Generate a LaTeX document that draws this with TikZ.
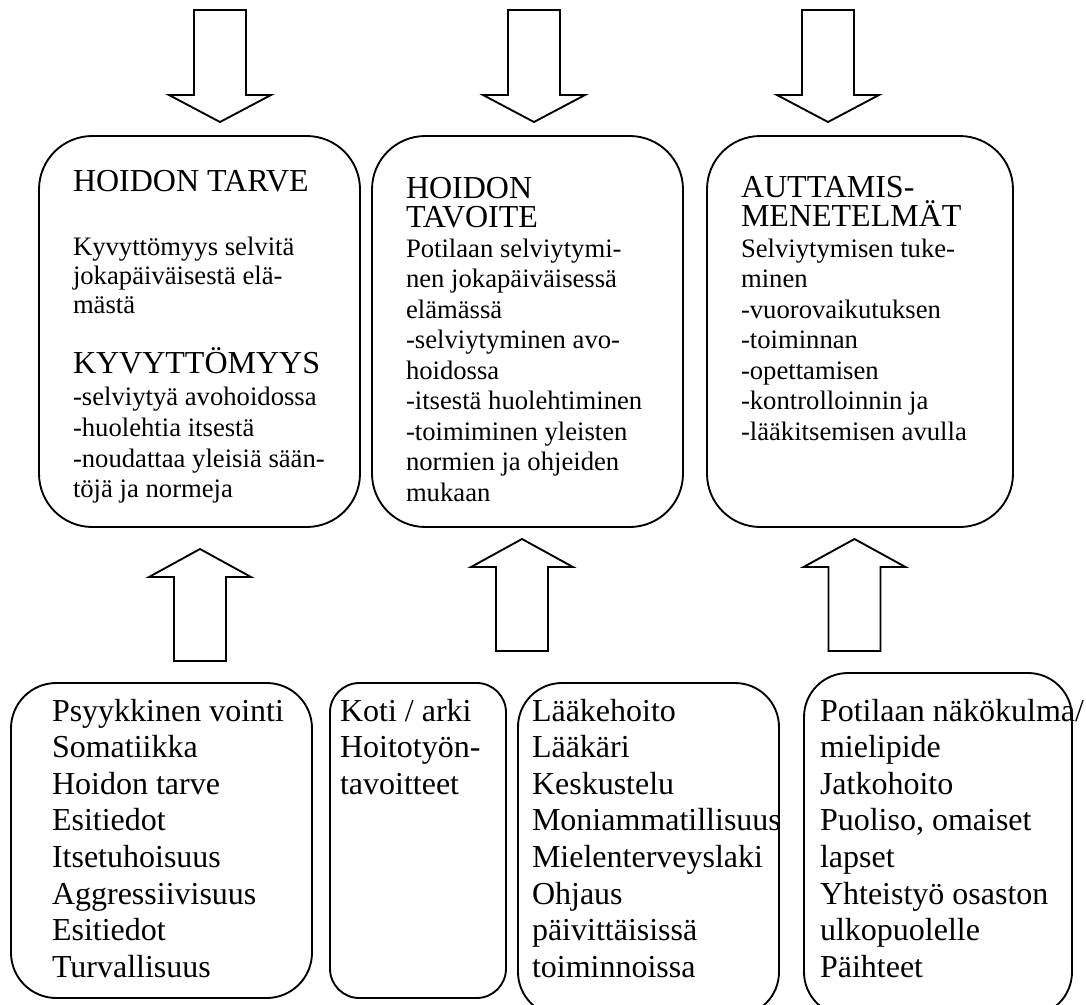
\documentclass[tikz,border=0pt]{standalone}
\usepackage{fontspec}
\setmainfont{Liberation Serif}
\usetikzlibrary{fit}
\newcommand\fhead{\fontsize{24}{28}\selectfont}
\newcommand\fbody{\fontsize{20}{23}\selectfont}
\tikzset{
  box/.style={draw, line width=1.4pt, rounded corners=#1, inner sep=0pt},
  txt/.style={anchor=base west, inner sep=0pt, outer sep=0pt},
  blockdown/.pic={\draw[line width=1.4pt, line join=miter]
     (-26,0) -- (26,0) -- (26,85) -- (51,85) -- (0,112) -- (-51,85) -- (-26,85) -- cycle;},
  blockup/.pic={\draw[line width=1.4pt, line join=miter]
     (-26,0) -- (26,0) -- (26,-84) -- (51,-84) -- (0,-112) -- (-51,-84) -- (-26,-84) -- cycle;}
}
\begin{document}
\begin{tikzpicture}[x=0.75pt, y=-0.75pt]
\useasboundingbox (0,0) rectangle (1086,1004);
\clip (0,0) rectangle (1086,1004);

% top arrows
\pic (da1) at (220,10) {blockdown};
\pic (da2) at (534,10) {blockdown};
\pic (da3) at (828,10) {blockdown};

% top boxes
\node[box=40pt, fit={(39,136) (360,527)}] (t1) {};
\node[box=40pt, fit={(372,136) (683,527)}] (t2) {};
\node[box=40pt, fit={(707,136) (1013,527)}] (t3) {};

% up arrows
\pic (ua1) at (200,661) {blockup};
\pic (ua2) at (522,651) {blockup};
\pic (ua3) at (854.5,651) {blockup};

% bottom boxes
\node[box=34pt, fit={(11,683) (312,998)}] (b1) {};
\node[box=22pt, fit={(330,683) (506,998)}] (b2) {};
\node[box=33pt, fit={(518,683) (779,1016)}] (b3) {};
\node[box=33pt, fit={(804,673) (1072,1016)}] (b4) {};

% texts of top box 1
\foreach \y/\t [count=\i] in {
  191/{\fhead HOIDON TARVE},
  255/{\fbody Kyvyttömyys selvitä},
  284/{\fbody jokapäiväisestä elä-},
  313/{\fbody mästä},
  373/{\fhead KYVYTTÖMYYS},
  405/{\fbody -selviytyä avohoidossa},
  436/{\fbody -huolehtia itsestä},
  467/{\fbody -noudattaa yleisiä sään-},
  497/{\fbody töjä ja normeja}}
  \node[txt] (t1-\i) at (73,\y) {\t};

% texts of top box 2
\foreach \y/\t [count=\i] in {
  198/{\fhead HOIDON},
  227/{\fhead TAVOITE},
  257/{\fbody Potilaan selviytymi-},
  287.5/{\fbody nen jokapäiväisessä},
  318/{\fbody elämässä},
  348.5/{\fbody -selviytyminen avo-},
  379/{\fbody hoidossa},
  409.5/{\fbody -itsestä huolehtiminen},
  440/{\fbody -toimiminen yleisten},
  470.5/{\fbody normien ja ohjeiden},
  501/{\fbody mukaan}}
  \node[txt] (t2-\i) at (406,\y) {\t};

% texts of top box 3
\foreach \y/\t [count=\i] in {
  197/{\fhead AUTTAMIS-},
  226/{\fhead MENETELMÄT},
  257/{\fbody Selviytymisen tuke-},
  287.5/{\fbody minen},
  318/{\fbody -vuorovaikutuksen},
  348.5/{\fbody -toiminnan},
  379/{\fbody -opettamisen},
  409.5/{\fbody -kontrolloinnin ja},
  440/{\fbody -lääkitsemisen avulla}}
  \node[txt] (t3-\i) at (741,\y) {\t};

% bottom boxes texts
\foreach \t [count=\i] in {Psyykkinen vointi, Somatiikka, Hoidon tarve, Esitiedot,
  Itsetuhoisuus, Aggressiivisuus, Esitiedot, Turvallisuus}
  \node[txt, font=\fhead] (b1-\i) at (52,{721+36.6*(\i-1)}) {\t};

\foreach \t [count=\i] in {Koti / arki, Hoitotyön-, tavoitteet}
  \node[txt, font=\fhead] (b2-\i) at (340,{721+36.6*(\i-1)}) {\t};

\foreach \t [count=\i] in {Lääkehoito, Lääkäri, Keskustelu, Moniammatillisuus,
  Mielenterveyslaki, Ohjaus, päivittäisissä, toiminnoissa}
  \node[txt, font=\fhead] (b3-\i) at (532,{721+36.6*(\i-1)}) {\t};

\foreach \t [count=\i] in {Potilaan näkökulma/, mielipide, Jatkohoito, {Puoliso, omaiset},
  lapset, Yhteistyö osaston, ulkopuolelle, Päihteet}
  \node[txt, font=\fhead] (b4-\i) at (820,{721+36.6*(\i-1)}) {\t};
\end{tikzpicture}
\end{document}
